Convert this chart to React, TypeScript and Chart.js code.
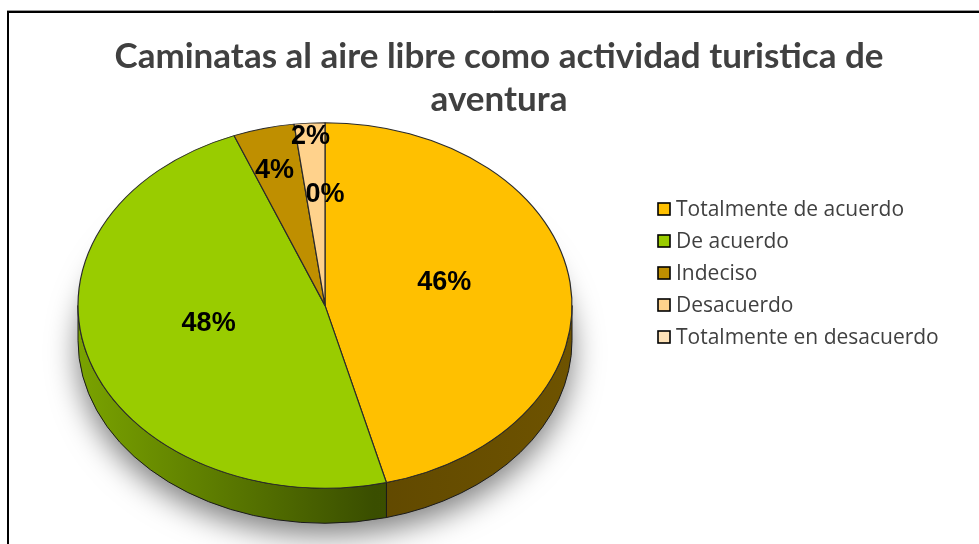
import React, { useEffect, useRef } from "react";
import { Chart, registerables } from "chart.js";

Chart.register(...registerables);

const TITLE_LINES = ["Caminatas al aire libre como actividad turistica de", "aventura"];
const CATEGORIES = [
  "Totalmente de acuerdo",
  "De acuerdo",
  "Indeciso",
  "Desacuerdo",
  "Totalmente en desacuerdo",
];
const PERCENTAGES = [46, 48, 4, 2, 0];
const COLORS = ["#FFC000", "#99CC00", "#BF8F00", "#FFD28C", "#FFE3B8"];

// label placement (style): radial fraction and angular nudge in degrees
const LABEL_RADIUS = [0.5, 0.48, 0.77, 0.93, 0.61];
const LABEL_ANGLE_SHIFT = [-8, 7, -1, 0, 0];

const TILT = 0.74;
const DEPTH = 35;
const TEXT_GRAY = "#404040";

function shade(hex: string, f: number): string {
  const n = parseInt(hex.slice(1), 16);
  const r = Math.round(((n >> 16) & 255) * f);
  const g = Math.round(((n >> 8) & 255) * f);
  const b = Math.round((n & 255) * f);
  return `rgb(${r},${g},${b})`;
}

const framePlugin = {
  id: "frame",
  beforeDraw(chart: any) {
    const ctx = chart.ctx;
    ctx.save();
    ctx.fillStyle = "#ffffff";
    ctx.fillRect(0, 0, chart.width, chart.height);
    ctx.strokeStyle = "#9a9a9a";
    ctx.lineWidth = 1;
    ctx.beginPath();
    ctx.moveTo(7, 10.5);
    ctx.lineTo(chart.width + 5, 10.5);
    ctx.stroke();
    ctx.strokeStyle = "#000000";
    ctx.lineWidth = 2;
    ctx.strokeRect(8, 12, chart.width + 50, chart.height + 50);
    ctx.restore();
  },
  afterDraw(chart: any) {
    const ctx = chart.ctx;
    ctx.save();
    // title
    ctx.fillStyle = TEXT_GRAY;
    ctx.font = "bold 35px Lato";
    ctx.textAlign = "center";
    ctx.textBaseline = "middle";
    TITLE_LINES.forEach((line, i) => ctx.fillText(line, 499, 57 + i * 43));
    // legend
    ctx.font = "21px 'Open Sans'";
    ctx.textAlign = "left";
    CATEGORIES.forEach((label, i) => {
      const y = 209 + i * 32;
      ctx.fillStyle = COLORS[i];
      ctx.fillRect(658, y - 6, 12, 12);
      ctx.strokeStyle = "#000";
      ctx.lineWidth = 1.6;
      ctx.strokeRect(658, y - 6, 12, 12);
      ctx.fillStyle = TEXT_GRAY;
      ctx.fillText(label, 676, y + 1);
    });
    ctx.restore();
  },
};

const pie3dPlugin = {
  id: "pie3d",
  beforeDatasetsDraw(chart: any) {
    const meta = chart.getDatasetMeta(0);
    const arcs = meta.data;
    if (!arcs.length) return;
    const { x: cx, y: cy, outerRadius: r } = arcs[0].getProps(["x", "y", "outerRadius"], true);
    const ry = r * TILT;
    const ctx = chart.ctx;
    ctx.save();
    // drop shadow
    ctx.save();
    ctx.shadowColor = "rgba(0,0,0,0.5)";
    ctx.shadowBlur = 30;
    ctx.shadowOffsetY = 12;
    ctx.fillStyle = "#888";
    ctx.beginPath();
    ctx.ellipse(cx, cy + DEPTH, r, ry, 0, 0, Math.PI * 2);
    ctx.fill();
    ctx.restore();
    // side walls
    arcs.forEach((arc: any, i: number) => {
      const { startAngle, endAngle } = arc.getProps(["startAngle", "endAngle"], true);
      const a = Math.max(startAngle, 0);
      const b = Math.min(endAngle, Math.PI);
      if (b <= a) return;
      const g = ctx.createLinearGradient(cx - r, 0, cx + r, 0);
      g.addColorStop(0, shade(COLORS[i], 0.8));
      g.addColorStop(0.6, shade(COLORS[i], 0.38));
      g.addColorStop(1, shade(COLORS[i], 0.43));
      ctx.beginPath();
      ctx.ellipse(cx, cy, r, ry, 0, a, b, false);
      ctx.ellipse(cx, cy + DEPTH, r, ry, 0, b, a, true);
      ctx.closePath();
      ctx.fillStyle = g;
      ctx.fill();
      ctx.strokeStyle = "#1a1a1a";
      ctx.lineWidth = 1;
      ctx.stroke();
    });
    ctx.restore();
    // squash top face into ellipse
    ctx.save();
    ctx.translate(cx, cy);
    ctx.scale(1, TILT);
    ctx.translate(-cx, -cy);
  },
  afterDatasetsDraw(chart: any) {
    const ctx = chart.ctx;
    ctx.restore();
    const meta = chart.getDatasetMeta(0);
    ctx.save();
    ctx.fillStyle = "#000";
    ctx.font = "bold 27px 'Liberation Sans', Arial";
    ctx.textAlign = "center";
    ctx.textBaseline = "middle";
    meta.data.forEach((arc: any, i: number) => {
      const { x, y, startAngle, endAngle, outerRadius } = arc.getProps(
        ["x", "y", "startAngle", "endAngle", "outerRadius"],
        true
      );
      const mid = (startAngle + endAngle) / 2 + (LABEL_ANGLE_SHIFT[i] * Math.PI) / 180;
      const d = outerRadius * LABEL_RADIUS[i];
      ctx.fillText(`${PERCENTAGES[i]}%`, x + d * Math.cos(mid), y + d * Math.sin(mid) * TILT + 1);
    });
    ctx.restore();
  },
};

export default function App() {
  const ref = useRef<HTMLCanvasElement | null>(null);
  useEffect(() => {
    if (!ref.current) return;
    const chart = new Chart(ref.current, {
      type: "pie",
      data: {
        labels: CATEGORIES,
        datasets: [
          {
            data: PERCENTAGES,
            backgroundColor: COLORS,
            borderColor: "#2a2a2a",
            borderWidth: 1.2,
            clip: false,
          } as any,
        ],
      },
      options: {
        responsive: false,
        animation: false,
        radius: 247,
        layout: { padding: { left: 78, right: 407, top: 67, bottom: 0 } },
        plugins: {
          legend: { display: false },
          title: { display: false },
          tooltip: { enabled: false },
        },
      } as any,
      plugins: [framePlugin, pie3dPlugin],
    });
    return () => chart.destroy();
  }, []);
  return (
    <div style={{ position: "fixed", left: 0, top: 0, width: 979, height: 544, background: "#fff" }}>
      <canvas ref={ref} width={979} height={544} />
    </div>
  );
}
